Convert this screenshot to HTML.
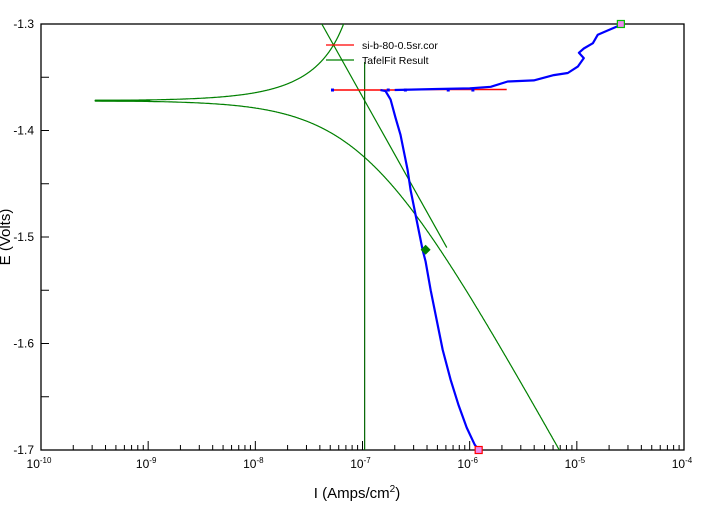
<!DOCTYPE html>
<html><head><meta charset="utf-8"><style>
body{margin:0;background:#fff;}
svg text{font-family:"Liberation Sans",Arial,sans-serif;fill:#000;}
</style></head><body>
<svg id="chart" width="713" height="508" xmlns="http://www.w3.org/2000/svg">
<rect width="713" height="508" fill="#fff"/>
<g id="plot"></g>
</svg>
<script>
const xDecades = [-10,-9,-8,-7,-6,-5,-4];
const yTicks = [-1.3,-1.4,-1.5,-1.6,-1.7];
const yMinor = [-1.35,-1.45,-1.55,-1.65];
// cathodic data (log10 I, E)
const cathLogI = [-6.832,-6.785,-6.738,-6.692,-6.645,-6.617,-6.579,-6.551,-6.523,-6.495,-6.467,-6.439,-6.411,-6.364,-6.308,-6.252,-6.178,-6.103,-6.028,-5.953,-5.916];
const cathE = [-1.362,-1.363,-1.371,-1.388,-1.404,-1.418,-1.437,-1.456,-1.470,-1.484,-1.498,-1.512,-1.523,-1.550,-1.578,-1.606,-1.634,-1.658,-1.679,-1.695,-1.700];
// anodic data
const anLogI = [-6.700,-6.300,-6.000,-5.804,-5.645,-5.402,-5.215,-5.084,-4.991,-4.935,-4.981,-4.935,-4.850,-4.804,-4.710,-4.617,-4.589];
const anE = [-1.362,-1.361,-1.3605,-1.359,-1.354,-1.353,-1.348,-1.346,-1.340,-1.332,-1.327,-1.323,-1.318,-1.310,-1.306,-1.302,-1.300];
// red segment
const redLogI = [-7.280,-6.600,-6.590,-5.654];
const redE = [-1.362,-1.362,-1.3615,-1.3615];
// Tafel fit parameters
const ecorr = [-1.372];
const icorrLog = [-6.98];
const betaA = [5.0];
const betaC = [0.18];
const fitMinLog = [-9.495];
const flatEndLog = [-8.98];
const tafelLineE = [-1.3,-1.51];
const fitPoint = [-6.411,-1.512];
const endPoints = [[-5.916,-1.700],[-4.589,-1.300]];

const L=41,R=684,T=24,B=450;
const xs = lg => L + (lg+10)*(R-L)/6;
const ys = e => T + (-1.3-e)*(B-T)/0.4;
const NS="http://www.w3.org/2000/svg";
const g=document.getElementById('plot');
function mk(tag,attrs,parent){const el=document.createElementNS(NS,tag);for(const k in attrs)el.setAttribute(k,attrs[k]);(parent||g).appendChild(el);return el;}

const defs=mk('defs',{});
const cp=mk('clipPath',{id:'cp'},defs);mk('rect',{x:L,y:T,width:R-L,height:B-T},cp);

let el=mk('rect',{x:L,y:T,width:R-L,height:B-T,fill:'none',stroke:'#000','stroke-width':1.3});



xDecades.forEach((d,i)=>{
  const x=xs(d);
  let t=mk('line',{x1:x,x2:x,y1:B,y2:B-9,stroke:'#000'});
  
  
  const lab=mk('text',{x:x-2,y:468,'font-size':12,'text-anchor':'middle'});
  
  
  lab.appendChild(document.createTextNode('10'));
  const sup=mk('tspan',{dy:-5,'font-size':8},lab);sup.textContent=String(d);
  if(i<xDecades.length-1){
    for(let m=2;m<=9;m++){
      const xm=xs(d+Math.log10(m));
      let mt=mk('line',{x1:xm,x2:xm,y1:B,y2:B-5,stroke:'#000'});
      
      
    }
  }
});
yTicks.forEach(v=>{
  const y=ys(v);
  let t=mk('line',{x1:L,x2:L+8,y1:y,y2:y,stroke:'#000'});
  
  
  let lab=mk('text',{x:34,y:y+4,'font-size':12,'text-anchor':'end'});
  
  
  lab.textContent=v.toFixed(1);
});
yMinor.forEach(v=>{
  const y=ys(v);
  let t=mk('line',{x1:L,x2:L+8,y1:y,y2:y,stroke:'#000'});
  
  
});
let xt=mk('text',{x:357,y:498,'font-size':15,'text-anchor':'middle'});


xt.appendChild(document.createTextNode('I (Amps/cm'));
let s2=mk('tspan',{dy:-6,'font-size':10},xt);s2.textContent='2';
let s3=mk('tspan',{dy:6},xt);s3.textContent=')';
let yt=mk('text',{x:0,y:0,'font-size':15,'text-anchor':'middle',transform:'translate(10,237) rotate(-90)'});


yt.textContent='E (Volts)';

const cg=mk('g',{'clip-path':'url(#cp)'});


function poly(lx,ey,color,w,name){
  const pts=lx.map((v,i)=>xs(v).toFixed(1)+','+ys(ey[i]).toFixed(1)).join(' ');
  const p=mk('polyline',{points:pts,fill:'none',stroke:color,'stroke-width':w,'stroke-linejoin':'round'},cg);
  
  
  return p;
}
// Butler-Volmer fit curve
function bv(e){
  const de=e-ecorr[0];
  const net=Math.pow(10,de/betaA[0])-Math.pow(10,-de/betaC[0]);
  return Math.max(fitMinLog[0],icorrLog[0]+Math.log10(Math.abs(net)+1e-14));
}
const up=[],upE=[],lo=[],loE=[];
for(let k=0;k<=800;k++){const e=ecorr[0]+(-1.3-ecorr[0])*Math.pow(k/800,2);up.push(bv(e));upE.push(e);}
for(let k=0;k<=800;k++){const e=ecorr[0]+(-1.7-ecorr[0])*Math.pow(k/800,2);lo.push(bv(e));loE.push(e);}
poly(up,upE,'#008000',1.2,'tafel-fit-anodic-branch');
poly(lo,loE,'#008000',1.2,'tafel-fit-cathodic-branch');
poly([fitMinLog[0],flatEndLog[0]],[ecorr[0],ecorr[0]],'#008000',2.2,'ecorr-flat-segment');
poly(tafelLineE.map(e=>icorrLog[0]+(ecorr[0]-e)/betaC[0]),tafelLineE,'#008000',1.2,'cathodic-tafel-line');
let vl=mk('line',{x1:xs(icorrLog[0]),x2:xs(icorrLog[0]),y1:62,y2:B,stroke:'#006400','stroke-width':1.2},cg);


poly(redLogI,redE,'#ff0000',1.5,'red-scan-segment');
poly(cathLogI,cathE,'#0000ff',2.2,'cathodic-data');
poly(anLogI,anE,'#0000ff',2.2,'anodic-data');
[-7.28,-6.76,-6.60,-6.2,-5.97].forEach(lg=>{
  const d=mk('rect',{x:xs(lg)-1.5,y:ys(-1.362)-1.5,width:3,height:3,fill:'#0000ff'},cg);
  
  
});
const fx=xs(fitPoint[0]),fy=ys(fitPoint[1]);
let dm=mk('polygon',{points:`${fx},${fy-5} ${fx+5},${fy} ${fx},${fy+5} ${fx-5},${fy}`,fill:'#008000'});


endPoints.forEach((p,i)=>{
  const x=xs(p[0]),y=ys(p[1]);
  const r=mk('rect',{x:x-3.5,y:y-3.5,width:7,height:7,fill:'#ee88ee',stroke:i==0?'#ff0000':'#00c000','stroke-width':1.2});
  
  
});
const lg=mk('g',{});


[['si-b-80-0.5sr.cor','#ff0000',45],['TafelFit Result','#008000',60]].forEach(([t,c,y])=>{
  let l=mk('line',{x1:326,x2:354,y1:y,y2:y,stroke:c,'stroke-width':1.3},lg);
  
  
  let tx=mk('text',{x:362,y:y+4,'font-size':10.5},lg);
  
  
  tx.textContent=t;
});
</script>
</body></html>
